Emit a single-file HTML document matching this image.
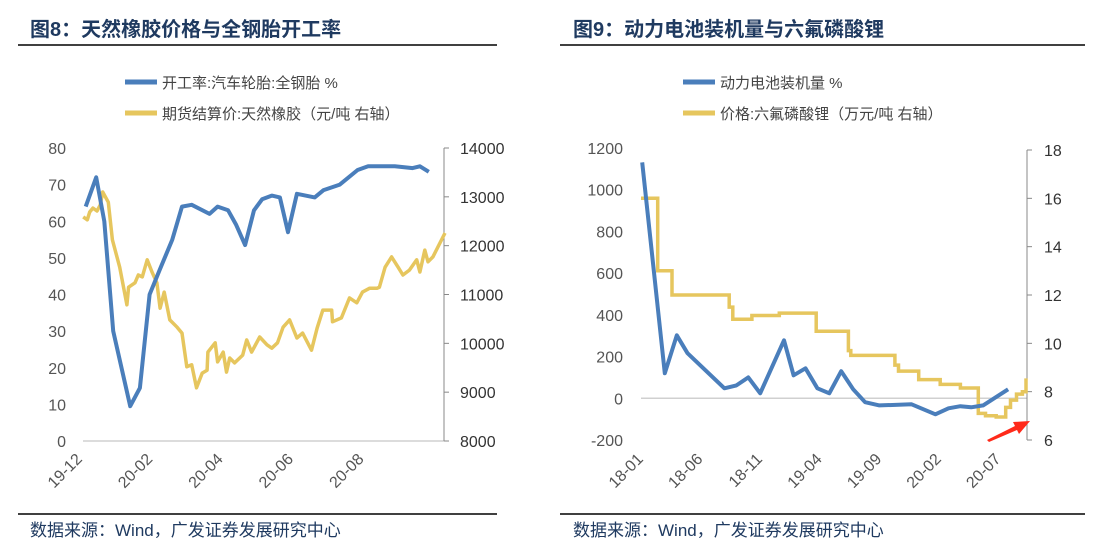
<!DOCTYPE html>
<html><head><meta charset="utf-8">
<style>
body{margin:0;background:#fff;width:1094px;height:539px;overflow:hidden;font-family:"Liberation Sans","Noto Sans CJK SC",sans-serif;}
svg{position:absolute;left:0;top:0}
</style></head>
<body>
<svg id="c" width="1094" height="539" xmlns="http://www.w3.org/2000/svg">
<text x="30" y="36" font-size="20" font-weight="bold" fill="#1f3a60" font-family="Liberation Sans,Noto Sans CJK SC,sans-serif">图8：天然橡胶价格与全钢胎开工率</text>
<line x1="18" y1="45" x2="497" y2="45" stroke="#000" stroke-width="1.5"/>
<text x="573" y="36" font-size="20" font-weight="bold" fill="#1f3a60" font-family="Liberation Sans,Noto Sans CJK SC,sans-serif">图9：动力电池装机量与六氟磷酸锂</text>
<line x1="560" y1="45" x2="1085" y2="45" stroke="#000" stroke-width="1.5"/>
<line x1="18" y1="514" x2="497" y2="514" stroke="#000" stroke-width="1.5"/>
<line x1="560" y1="514" x2="1085" y2="514" stroke="#000" stroke-width="1.5"/>
<text x="30" y="536" font-size="17" fill="#1f3a60">数据来源：Wind，广发证券发展研究中心</text>
<text x="573" y="536" font-size="17" fill="#1f3a60">数据来源：Wind，广发证券发展研究中心</text>

<line x1="125" y1="82" x2="157" y2="82" stroke="#4a7ebb" stroke-width="5"/>
<text x="162" y="88" font-size="15" fill="#444">开工率:汽车轮胎:全钢胎 %</text>
<line x1="125" y1="113" x2="157" y2="113" stroke="#e6c65e" stroke-width="5"/>
<text x="162" y="119" font-size="15" fill="#444">期货结算价:天然橡胶（元/吨 右轴）</text>
<line x1="683" y1="82" x2="715" y2="82" stroke="#4a7ebb" stroke-width="5"/>
<text x="720" y="88" font-size="15" fill="#444">动力电池装机量 %</text>
<line x1="683" y1="113" x2="715" y2="113" stroke="#e6c65e" stroke-width="5"/>
<text x="720" y="119" font-size="15" fill="#444">价格:六氟磷酸锂（万元/吨 右轴）</text>
<g id="g"></g>
</svg>
<script>
// ---- Left chart data ----
const leftTickLabels = ["19-12","20-02","20-04","20-06","20-08"];
const leftTickWeeks = [0,8.7,17.4,26.1,34.8];
const leftYTicks = [0,10,20,30,40,50,60,70,80];
const leftY2Ticks = [8000,9000,10000,11000,12000,13000,14000];
const rateWeeks = [0.7,2.0,3.0,4.1,6.2,7.4,8.6,9.9,11.4,12.6,13.8,16.0,17.0,18.3,19.3,20.4,21.5,22.5,23.7,24.7,25.7,26.8,29.0,30.1,32.1,34.3,35.6,38.9,41.1,42.0,43.1];
const rateValues = [64,72,60,30,9.5,14.5,40,47,55,64,64.5,62,64,63,59,53.5,63,66,67,66.5,57,67.5,66.5,68.5,70,74,75,75,74.5,75,73.5];
const rubberWeeks = [0.4,0.9,1.2,1.6,2.1,2.5,2.8,3.5,4.0,4.9,5.8,6.0,6.8,7.2,7.7,8.3,8.9,9.5,9.9,10.4,11.1,12.0,12.6,13.2,13.8,14.4,15.1,15.7,15.8,16.7,17.0,17.7,18.1,18.5,19.1,20.1,20.6,21.2,22.2,23.1,23.7,24.4,25.1,25.9,26.8,27.5,28.6,29.3,30.0,31.1,31.2,32.3,33.3,34.2,34.9,35.8,36.7,37.0,37.7,38.5,39.3,39.9,40.7,41.6,42.0,42.6,43.0,43.6,45.1];
const rubberPrices = [12590,12530,12690,12770,12710,12830,13100,12890,12120,11560,10790,11150,11240,11400,11360,11710,11460,11240,10720,11050,10480,10330,10210,9520,9560,9090,9390,9450,9820,10010,9620,9820,9410,9700,9600,9760,10070,9820,10130,9970,9900,10010,10330,10480,10110,10210,9860,10310,10680,10680,10440,10520,10930,10830,11050,11130,11130,11150,11560,11770,11560,11400,11500,11710,11460,11910,11670,11770,12260];
// ---- Right chart data ----
const rightTickLabels = ["18-01","18-06","18-11","19-04","19-09","20-02","20-07"];
const rightTickMonths = [0,5,10,15,20,25,30];
const rightYTicks = [-200,0,200,400,600,800,1000,1200];
const rightY2Ticks = [6,8,10,12,14,16,18];
const installMonths = [0.1,2,3,3.9,7,8,9,10,12,12.8,13.8,14.8,15.8,16.8,17.8,18.8,20,22.7,24.7,25.8,26.8,27.7,28.7,30.8];
const installValues = [1131,120,302,216,48,62,100,24,278,110,144,48,24,130,43,-19,-34,-29,-77,-48,-38,-43,-34,43];
const lipfMonths = [0,1.4,2.6,7.4,7.7,9.3,11.6,14.7,17.4,17.6,21.3,21.6,23.3,25.1,26.8,28.3,28.9,29.8,30.6,31,31.5,32,32.3];
const lipfPrices = [16,13,12,11.5,11,11.15,11.25,10.5,9.7,9.5,9.1,8.85,8.5,8.3,8.15,7.1,7.0,6.95,7.35,7.65,7.9,8.0,8.55];

const NS="http://www.w3.org/2000/svg";
const G=document.getElementById('g');
function mk(tag,attrs,parent){const e=document.createElementNS(NS,tag);for(const k in attrs)e.setAttribute(k,attrs[k]);(parent||G).appendChild(e);return e;}
function lin(d0,d1,r0,r1){return v=>r0+(v-d0)/(d1-d0)*(r1-r0);}

const lx=lin(0,45.1,80,445), ly=lin(0,80,441,148), ly2=lin(8000,14000,441,148);
const rx=lin(0,32.3,641,1026), ry=lin(-200,1200,440,148), ry2=lin(6,18,440,150);

let e=mk('line',{x1:83,y1:441,x2:444,y2:441,stroke:'#d0d0d0','stroke-width':1.5});


e=mk('line',{x1:444,y1:148,x2:444,y2:441,stroke:'#888','stroke-width':1});


leftYTicks.forEach(v=>{const t=mk('text',{x:66,y:ly(v)+6,'font-size':16,fill:'#555','text-anchor':'end'});t.textContent=v;

});
leftY2Ticks.forEach(v=>{const l=mk('line',{x1:444,x2:449,y1:ly2(v),y2:ly2(v),stroke:'#888'});


const t=mk('text',{x:460,y:ly2(v)+6,'font-size':16,fill:'#333'});t.textContent=v;

});
leftTickLabels.forEach((s,i)=>{const x=lx(leftTickWeeks[i])+3,y=460;const t=mk('text',{x:x,y:y,'font-size':16,fill:'#555','text-anchor':'end',transform:`rotate(-45 ${x} ${y})`});t.textContent=s;

});
e=mk('path',{d:rubberWeeks.map((w,i)=>(i?'L':'M')+lx(w).toFixed(1)+' '+ly2(rubberPrices[i]).toFixed(1)).join(''),fill:'none',stroke:'#e6c65e','stroke-width':3.5,'stroke-linejoin':'round'});


e=mk('path',{d:rateWeeks.map((w,i)=>(i?'L':'M')+lx(w).toFixed(1)+' '+ly(rateValues[i]).toFixed(1)).join(''),fill:'none',stroke:'#4a7ebb','stroke-width':4,'stroke-linejoin':'round'});



e=mk('line',{x1:641,y1:ry(0),x2:1027,y2:ry(0),stroke:'#d0d0d0','stroke-width':1.5});


e=mk('line',{x1:1027,y1:150,x2:1027,y2:440,stroke:'#888','stroke-width':1});


rightYTicks.forEach(v=>{const t=mk('text',{x:623,y:ry(v)+6,'font-size':16,fill:'#555','text-anchor':'end'});t.textContent=v;

});
rightY2Ticks.forEach(v=>{const l=mk('line',{x1:1027,x2:1032,y1:ry2(v),y2:ry2(v),stroke:'#888'});


const t=mk('text',{x:1044,y:ry2(v)+6,'font-size':16,fill:'#333'});t.textContent=v;

});
rightTickLabels.forEach((s,i)=>{const x=rx(rightTickMonths[i])+3,y=460;const t=mk('text',{x:x,y:y,'font-size':16,fill:'#555','text-anchor':'end',transform:`rotate(-45 ${x} ${y})`});t.textContent=s;

});
let d='';lipfMonths.forEach((m,i)=>{const x=rx(m).toFixed(1),y=ry2(lipfPrices[i]).toFixed(1);d+= i?`H${x}V${y}`:`M${x} ${y}`;});
e=mk('path',{d:d,fill:'none',stroke:'#e6c65e','stroke-width':3.5});


e=mk('path',{d:installMonths.map((m,i)=>(i?'L':'M')+rx(m).toFixed(1)+' '+ry(installValues[i]).toFixed(1)).join(''),fill:'none',stroke:'#4a7ebb','stroke-width':4,'stroke-linejoin':'round'});


e=mk('polygon',{points:'987,440 1015,426 1013,422 1030,421 1019,434 1017,430 989,442',fill:'#ff2a1a'});


</script>
</body></html>
